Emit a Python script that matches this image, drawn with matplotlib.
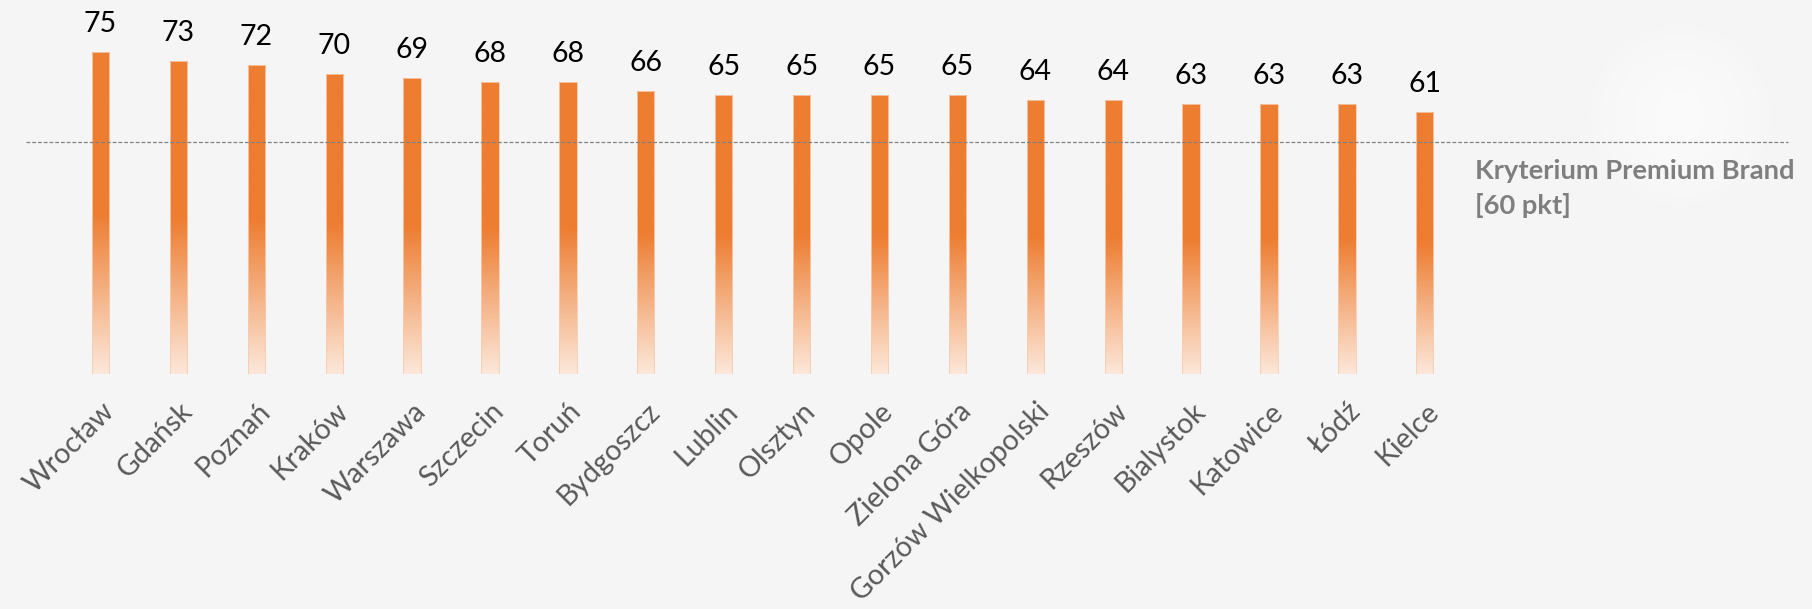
import numpy as np
import matplotlib
matplotlib.use("Agg")
import matplotlib.pyplot as plt
from matplotlib.transforms import ScaledTranslation
from matplotlib.colors import to_rgb

# ---- data ----
cities = ["Wrocław", "Gdańsk", "Poznań", "Kraków", "Warszawa", "Szczecin", "Toruń",
          "Bydgoszcz", "Lublin", "Olsztyn", "Opole", "Zielona Góra",
          "Gorzów Wielkopolski", "Rzeszów", "Bialystok", "Katowice", "Łódź", "Kielce"]
scores = [75, 73, 72, 70, 69, 68, 68, 66, 65, 65, 65, 65, 64, 64, 63, 63, 63, 61]
criterion_label = ["Kryterium Premium Brand", "[60 pkt]"]
criterion_line_level = 54  # where the dashed reference line sits on the value axis in the picture

# ---- style ----
ORANGE = "#ED7D31"
BG = "#F5F5F5"
TICK_COLOR = "#595959"
FONT = "Lato"

W, H, DPI = 1812, 609, 100
fig = plt.figure(figsize=(W / DPI, H / DPI), dpi=DPI)
fig.patch.set_facecolor(BG)

# faint background blob (watermark-like)
bg_ax = fig.add_axes([0, 0, 1, 1], zorder=-10)
bg_ax.set_axis_off()
yy, xx = np.mgrid[0:H, 0:W]
d = np.sqrt((xx - 1680) ** 2 + (yy - 115) ** 2)
blob = np.clip(1 - d / 95, 0, 1) ** 0.6
base = np.array(to_rgb(BG))
img = base[None, None, :] + (1 - base[None, None, :]) * 0.6 * blob[..., None]
bg_ax.imshow(img, extent=[0, W, H, 0], aspect="auto")
bg_ax.set_xlim(0, W)
bg_ax.set_ylim(H, 0)

ax = fig.add_axes([0.0, 0.3859, 1.0, 0.9491 - 0.3859])
ax.set_facecolor("none")
x = np.arange(len(cities))
for s in ax.spines.values():
    s.set_visible(False)
ax.set_yticks([])

bar_w = 0.222
bars = ax.bar(x, scores, width=bar_w, facecolor="none", edgecolor="#F8CBAD",
              linewidth=0.6, zorder=3)

# gradient fill: solid upper half, fading to pale at the base
n = 256
f = np.linspace(0, 1, n)
a = np.where(f >= 0.5, 1.0, 0.18 + 0.82 * (f / 0.5))
orange = np.array(to_rgb(ORANGE))
cols = (1 - a)[:, None] * np.ones(3) + a[:, None] * orange
grad = cols[:, None, :]
for xi, v, b in zip(x, scores, bars):
    im = ax.imshow(grad, extent=[xi - bar_w / 2, xi + bar_w / 2, 0, v],
                   origin="lower", aspect="auto", zorder=2, interpolation="bilinear")
    im.set_clip_path(b)
ax.set_xlim(-1.29, 21.97)
ax.set_ylim(0, 80)

# value labels
for xi, v in zip(x, scores):
    ax.annotate(f"{v}", xy=(xi, v), xytext=(0, 14.4), textcoords="offset points",
                ha="center", va="baseline", fontsize=20.5, family=FONT, color="black")

# reference line
ax.axhline(criterion_line_level, xmin=26 / W, xmax=1788 / W, color="#808080",
           linestyle=(0, (3, 1.6)), linewidth=0.9, zorder=4)

# criterion label
fig.text(1475 / W, 1 - 179 / H, criterion_label[0], ha="left", va="baseline",
         fontsize=19.7, fontweight="bold", family=FONT, color="#7F7F7F")
fig.text(1475 / W, 1 - 214 / H, criterion_label[1], ha="left", va="baseline",
         fontsize=19.7, fontweight="bold", family=FONT, color="#7F7F7F")

# category labels
ax.set_xticks(x)
ax.set_xticklabels(cities, rotation=45, ha="right", va="center",
                   rotation_mode="anchor", fontsize=20.5, family=FONT, color=TICK_COLOR)
ax.tick_params(axis="x", length=0, pad=24)
off = ScaledTranslation(7 / 72, 0, fig.dpi_scale_trans)
for lab in ax.get_xticklabels():
    lab.set_transform(lab.get_transform() + off)

fig.savefig("out.png", dpi=DPI, facecolor=fig.get_facecolor())
